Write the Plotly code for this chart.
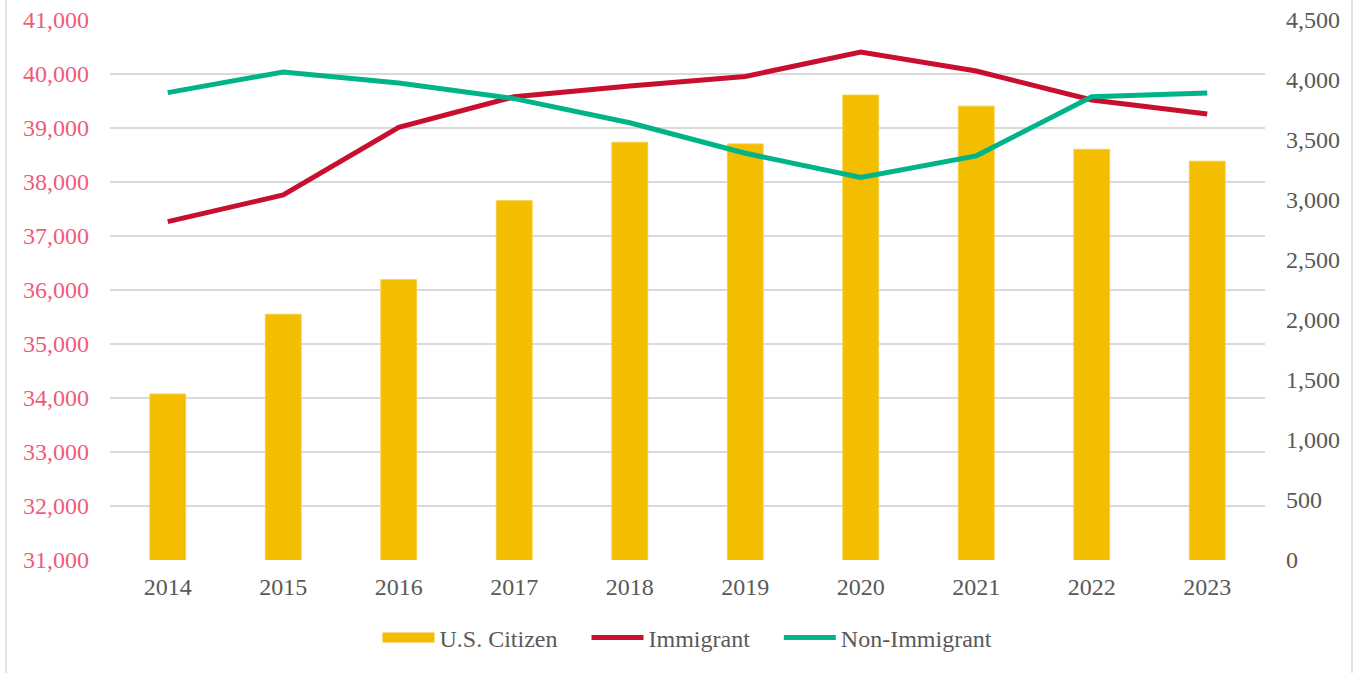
import plotly.graph_objects as go

years = ["2014", "2015", "2016", "2017", "2018", "2019", "2020", "2021", "2022", "2023"]
us_citizen = [34075, 35550, 36190, 37655, 38735, 38705, 39610, 39405, 38605, 38385]
immigrant = [2820, 3042, 3605, 3860, 3950, 4030, 4233, 4075, 3833, 3717]
non_immigrant = [3895, 4067, 3975, 3845, 3644, 3390, 3188, 3368, 3860, 3892]

left_ticks = list(range(31000, 41001, 1000))
right_ticks = list(range(0, 4501, 500))

font_family = "Liberation Serif, Times New Roman, serif"
grid_color = "#D9D9D9"
bar_color = "#F4BE00"
pad = "\u00a0" * 4  # extra room between legend entries, as in the original

fig = go.Figure()

fig.add_trace(go.Bar(
    x=years,
    y=us_citizen,
    name="U.S. Citizen",
    marker=dict(color=bar_color, line=dict(width=1, color="#F7CD45")),
    width=0.31,
    yaxis="y",
    showlegend=False,
))

# legend-only entry so the swatch is a wide block like the original
fig.add_trace(go.Scatter(
    x=[years[0]],
    y=[None],
    name="U.S. Citizen" + pad,
    mode="lines",
    line=dict(color=bar_color, width=10),
    yaxis="y",
    hoverinfo="skip",
))

fig.add_trace(go.Scatter(
    x=years,
    y=immigrant,
    name="Immigrant" + pad,
    mode="lines",
    line=dict(color="#C8102E", width=5),
    yaxis="y2",
))

fig.add_trace(go.Scatter(
    x=years,
    y=non_immigrant,
    name="Non-Immigrant",
    mode="lines",
    line=dict(color="#00B388", width=5),
    yaxis="y2",
))

fig.update_layout(
    width=1359,
    height=673,
    plot_bgcolor="white",
    paper_bgcolor="white",
    margin=dict(l=110, r=94, t=20, b=113, autoexpand=False),
    font=dict(family=font_family, size=24, color="#595959"),
    showlegend=True,
    legend=dict(
        orientation="h",
        xanchor="center",
        x=0.5,
        yanchor="middle",
        y=-0.1444,
        font=dict(size=24, color="#595959"),
        itemwidth=52,
        traceorder="normal",
    ),
    xaxis=dict(
        type="category",
        showgrid=False,
        showline=False,
        ticks="",
        automargin=False,
        ticklabelstandoff=10,
        tickfont=dict(color="#595959"),
    ),
    yaxis=dict(
        range=[31000, 41000],
        tickvals=left_ticks,
        tickformat=",",
        showgrid=True,
        gridcolor=grid_color,
        gridwidth=1.5,
        zeroline=False,
        showline=False,
        ticks="",
        automargin=False,
        ticklabelstandoff=20,
        tickfont=dict(color="#EE5C77"),
    ),
    yaxis2=dict(
        range=[0, 4500],
        tickvals=right_ticks,
        tickformat=",",
        overlaying="y",
        side="right",
        showgrid=False,
        zeroline=False,
        showline=False,
        ticks="",
        automargin=False,
        ticklabelstandoff=20,
        tickfont=dict(color="#595959"),
    ),
    shapes=[
        dict(type="line", xref="paper", yref="paper", x0=-0.09, x1=-0.09, y0=-0.25, y1=1.1,
             line=dict(color=grid_color, width=1.5)),
        dict(type="line", xref="paper", yref="paper", x0=1.0753, x1=1.0753, y0=-0.25, y1=1.1,
             line=dict(color=grid_color, width=1.5)),
    ],
)

# drop the browser's default 8px body margin so the figure sits at the page origin
fig.write_html(
    "out.html",
    config={"displayModeBar": False},
    post_script="document.body.style.margin='0';",
)
